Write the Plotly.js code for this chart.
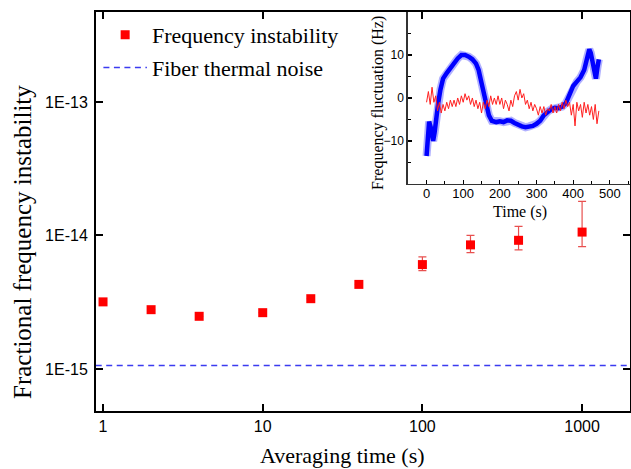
<!DOCTYPE html>
<html>
<head>
<meta charset="utf-8">
<script src="https://cdn.plot.ly/plotly-3.0.1.min.js"></script>
<style>html,body{margin:0;padding:0;background:#fff;}#chart{width:631px;height:469px;}</style>
</head>
<body>
<div id="chart"></div>
<script>
// Main plot: Allan deviation
const tau = [1, 2, 4, 10, 20, 40, 100, 200, 400, 1000];
const instability = [3.18e-15, 2.78e-15, 2.48e-15, 2.64e-15, 3.36e-15, 4.3e-15, 6.05e-15, 8.5e-15, 9.2e-15, 1.06e-14];
const errUpper = [3.18e-15, 2.78e-15, 2.48e-15, 2.64e-15, 3.36e-15, 4.3e-15, 6.9e-15, 1.0e-14, 1.17e-14, 1.8e-14];
const errLower = [3.18e-15, 2.78e-15, 2.48e-15, 2.64e-15, 3.36e-15, 4.3e-15, 5.45e-15, 7.45e-15, 7.8e-15, 8.25e-15];
const thermalTau = [0.9, 2000];
const thermalNoise = [1.06e-15, 1.06e-15];

const xTickVals = [1, 10, 100, 1000];
const xTickText = ['1', '10', '100', '1000'];
const yTickVals = [1e-15, 1e-14, 1e-13];
const yTickText = ['1E-15', '1E-14', '1E-13'];

// Inset: frequency fluctuation
const redTime = [0,5,10,15,20,25,30,35,40,45,50,55,60,65,70,75,80,85,90,95,100,105,110,115,120,125,130,135,140,145,150,155,160,165,170,175,180,185,190,195,200,205,210,215,220,225,230,235,240,245,250,255,260,265,270,275,280,285,290,295,300,305,310,315,320,325,330,335,340,345,350,355,360,365,370,375,380,385,390,395,400,405,410,415,420,425,430,435,440,445,450,455,460,465,470];
const redFreq = [-1,1.5,-1.5,2.5,-1,0.5,-3,-1,-3.5,-1.5,-3,-1,-2.5,-0.5,-2,-0.5,-2,0,-1.5,0.5,-1,1,-0.5,0.5,-1.5,0,-2,-0.5,-2.5,-1,-3.5,-1,-2.5,-0.5,-2,0.5,-1.5,0,-1.5,0.5,-1.5,0,-2.5,-0.5,-1.5,-3,-0.5,-2,0.5,1.5,-0.5,2,0,1,-1.5,-0.5,-2.5,-1,-3,-1.5,-2.5,-4,-2,-3.5,-2,-4,-2.5,-3,-1.5,-3.5,-2,-3.5,-1.5,-3,-1,-2.5,-0.5,-2,-1,-4,-1.5,-6.5,-1,-3,-1.5,-4.5,-1,-3.5,-1.5,-4,-2,-5,-1.5,-6,-3];
const blueTime = [0,3,7,12,18,22,27,32,38,45,55,65,75,85,95,105,115,125,135,142,150,157,163,170,178,190,200,210,220,230,240,250,260,270,280,290,300,310,320,330,340,350,360,370,380,390,400,410,420,430,437,444,448,453,458,462,466,470];
const blueFreq = [-13.5,-10,-5.5,-7,-10,-8,-4,-1,2,4.5,5.8,7,8,9.2,10,10,9.6,9,8,6.5,3.5,0.5,-2,-4,-5.3,-5.6,-5.4,-5.6,-5.2,-5.3,-5.8,-6.3,-6.6,-6.8,-6.6,-6.5,-6,-5.3,-4,-3.2,-2.6,-2.3,-2.4,-2,-1.2,0.8,2.8,3.8,4.8,6.5,9,11.3,10.5,8,5.5,4.5,7,9];

const serif = 'Liberation Serif, Times New Roman, serif';
const sans = 'Liberation Sans, Arial, sans-serif';

function minorLog(decs, lo, hi) {
  const v = [];
  decs.forEach(d => { for (let k = 2; k <= 9; k++) { const x = k * d; if (x >= lo && x <= hi) v.push(x); } });
  return v;
}

const traces = [
  {
    x: tau, y: instability, type: 'scatter', mode: 'markers', name: 'Frequency instability',
    legendgroup: 'a',
    marker: {symbol: 'square', size: 9, color: '#ff0000'},
    error_y: {type: 'data', symmetric: false,
      array: errUpper.map((u, i) => u - instability[i]),
      arrayminus: instability.map((v, i) => v - errLower[i]),
      color: '#e8504f', thickness: 1.2, width: 4},
    xaxis: 'x', yaxis: 'y'
  },
  {
    x: thermalTau, y: thermalNoise, type: 'scatter', mode: 'lines', name: 'Fiber thermal noise',
    legendgroup: 'b',
    line: {color: '#3b3bf0', width: 1.5, dash: '6px,4.5px'},
    xaxis: 'x', yaxis: 'y'
  },
  {
    x: blueTime, y: blueFreq, type: 'scatter', mode: 'lines', showlegend: false,
    line: {color: 'rgba(60,60,255,0.4)', width: 8}, xaxis: 'x2', yaxis: 'y2', hoverinfo: 'skip'
  },
  {
    x: blueTime, y: blueFreq, type: 'scatter', mode: 'lines', showlegend: false,
    line: {color: '#0000ff', width: 4.5}, xaxis: 'x2', yaxis: 'y2'
  },
  {
    x: redTime, y: redFreq, type: 'scatter', mode: 'lines', showlegend: false,
    line: {color: '#ff2020', width: 1}, xaxis: 'x2', yaxis: 'y2'
  }
];

const axisFont = {family: sans, size: 16, color: '#000'};

const layout = {
  width: 631, height: 469,
  margin: {l: 96, r: 1, t: 12, b: 58},
  paper_bgcolor: '#ffffff', plot_bgcolor: 'rgba(0,0,0,0)',
  showlegend: true,
  legend: {x: 0.0045, y: 0.995, xanchor: 'left', yanchor: 'top', bgcolor: 'rgba(0,0,0,0)',
    font: {family: serif, size: 22, color: '#000'}, tracegroupgap: 1, itemwidth: 43.5},
  xaxis: {
    type: 'log', range: [-0.044, 3.3], domain: [0, 1], anchor: 'y',
    tickmode: 'array', tickvals: xTickVals, ticktext: xTickText,
    ticks: 'inside', ticklen: 7, tickwidth: 2, tickcolor: '#000',
    showline: true, linewidth: 2, linecolor: '#000', mirror: 'allticks',
    showgrid: false, zeroline: false, tickfont: axisFont
  },
  xaxis3: {
    type: 'log', range: [-0.044, 3.3], overlaying: 'x', anchor: 'y', side: 'bottom',
    tickmode: 'array', tickvals: minorLog([1, 10, 100, 1000], 0.9, 2000),
    ticks: 'inside', ticklen: 4, tickwidth: 1.5, tickcolor: '#000',
    showticklabels: false, showline: false, mirror: 'allticks', showgrid: false, zeroline: false
  },
  yaxis: {
    type: 'log', range: [-15.315, -12.326], domain: [0, 1], anchor: 'x',
    tickmode: 'array', tickvals: yTickVals, ticktext: yTickText,
    ticks: 'inside', ticklen: 7, tickwidth: 2, tickcolor: '#000',
    showline: true, linewidth: 2, linecolor: '#000', mirror: 'allticks',
    showgrid: false, zeroline: false, tickfont: axisFont, ticklabelstandoff: 3
  },
  yaxis3: {
    type: 'log', range: [-15.315, -12.326], overlaying: 'y', anchor: 'x', side: 'left',
    tickmode: 'array', tickvals: minorLog([1e-16, 1e-15, 1e-14, 1e-13], 4.8e-16, 4.8e-13),
    ticks: 'inside', ticklen: 4, tickwidth: 1.5, tickcolor: '#000',
    showticklabels: false, showline: false, mirror: 'allticks', showgrid: false, zeroline: false
  },
  xaxis2: {
    range: [-51, 555], domain: [0.584, 1], anchor: 'y2',
    tickmode: 'array', tickvals: [0, 100, 200, 300, 400, 500],
    ticks: 'inside', ticklen: 4, tickwidth: 1.2, tickcolor: '#000',
    showline: true, linewidth: 1.5, linecolor: '#333', mirror: false,
    showgrid: false, zeroline: false, ticklabelstandoff: -3,
    tickfont: {family: sans, size: 13, color: '#000'},
    minor: {dtick: 50, tick0: 0, ticks: 'inside', ticklen: 3, tickwidth: 1, tickcolor: '#000', showgrid: false}
  },
  yaxis2: {
    range: [-20, 20], domain: [0.569, 1], anchor: 'x2',
    tickmode: 'array', tickvals: [-10, 0, 10],
    ticks: 'inside', ticklen: 4, tickwidth: 1.2, tickcolor: '#000',
    showline: true, linewidth: 1.5, linecolor: '#333', mirror: false,
    showgrid: false, zeroline: false,
    tickfont: {family: sans, size: 12, color: '#000'},
    minor: {dtick: 5, tick0: 0, ticks: 'inside', ticklen: 3, tickwidth: 1, tickcolor: '#000', showgrid: false}
  },
  annotations: [
    {text: 'Averaging time (s)', xref: 'paper', yref: 'paper', x: 0.4625, y: -0.1103, xanchor: 'center', yanchor: 'middle', showarrow: false, font: {family: serif, size: 22, color: '#000'}},
    {text: 'Fractional frequency instability', xref: 'paper', yref: 'paper', x: -0.1367, y: 0.4236, xanchor: 'center', yanchor: 'middle', textangle: -90, showarrow: false, font: {family: serif, size: 25, color: '#000'}},
    {text: 'Time (s)', xref: 'paper', yref: 'paper', x: 0.794, y: 0.4987, xanchor: 'center', yanchor: 'middle', showarrow: false, font: {family: serif, size: 16, color: '#000'}},
    {text: 'Frequency fluctuation (Hz)', xref: 'paper', yref: 'paper', x: 0.528, y: 0.772, xanchor: 'center', yanchor: 'middle', textangle: -90, showarrow: false, font: {family: serif, size: 16, color: '#000'}}
  ]
};

Plotly.newPlot('chart', traces, layout, {displayModeBar: false, staticPlot: true});
</script>
</body>
</html>
